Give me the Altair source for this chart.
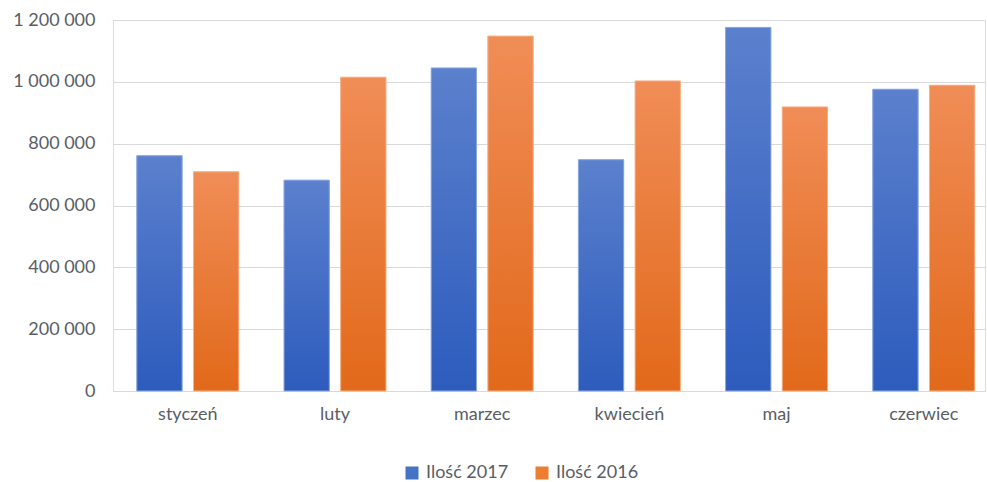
import altair as alt
import pandas as pd

months = ["styczeń", "luty", "marzec", "kwiecień", "maj", "czerwiec"]
series = ["Ilość 2017", "Ilość 2016"]
v2017 = [761000, 682000, 1045000, 748000, 1176000, 976000]
v2016 = [709000, 1015000, 1148000, 1003000, 919000, 989000]
y_ticks = [0, 200000, 400000, 600000, 800000, 1000000, 1200000]

rows = []
for m, a, b in zip(months, v2017, v2016):
    rows.append({"miesiac": m, "seria": series[0], "ilosc": a})
    rows.append({"miesiac": m, "seria": series[1], "ilosc": b})
df = pd.DataFrame(rows)

FONT = "Lato"
LABEL = "#595e66"

x_enc = alt.X("miesiac:N", sort=months, title=None,
              scale=alt.Scale(paddingInner=0.307, paddingOuter=0.1155, align=0.7),
              axis=alt.Axis(labelAngle=0, labelFontSize=18, labelColor=LABEL, labelFont=FONT,
                            labelPadding=14, domain=False, ticks=False, grid=False))
xo_enc = alt.XOffset("seria:N", sort=series,
                     scale=alt.Scale(domain=series, paddingInner=0.2, paddingOuter=0))
y_enc = alt.Y("ilosc:Q", title=None,
              scale=alt.Scale(domain=[0, 1200000], nice=False),
              axis=alt.Axis(values=y_ticks, labelFontSize=18, labelColor=LABEL, labelFont=FONT,
                            labelPadding=18, domain=False, ticks=False,
                            gridColor="#d9d9d9", gridWidth=1,
                            labelExpr="replace(replace(format(datum.value, ','), ',', ' '), ',', ' ')"))

base = alt.Chart(df)

legend_bars = base.mark_bar().encode(
    x=x_enc, xOffset=xo_enc, y=y_enc,
    color=alt.Color("seria:N", sort=series,
                    scale=alt.Scale(domain=series, range=["#4472c4", "#ed7d31"]),
                    legend=alt.Legend(title=None, orient="none", direction="horizontal",
                                      legendX=290, legendY=444,
                                      symbolType="square", symbolSize=169,
                                      labelFontSize=18, labelColor=LABEL, labelFont=FONT,
                                      labelOffset=5, columnPadding=24, symbolStrokeWidth=0)),
)

def grad(top, bottom):
    return alt.LinearGradient(gradient="linear", x1=0, x2=0, y1=0, y2=1,
                              stops=[alt.GradientStop(color=top, offset=0),
                                     alt.GradientStop(color=bottom, offset=1)])

blue = base.transform_filter(alt.datum.seria == series[0]).mark_bar(
    color=grad("#5b80cd", "#2d5cbd"), stroke="#8eaadf", strokeWidth=1
).encode(x=x_enc, xOffset=xo_enc, y=y_enc)

orange = base.transform_filter(alt.datum.seria == series[1]).mark_bar(
    color=grad("#f08d57", "#e2691a"), stroke="#f5b48a", strokeWidth=1
).encode(x=x_enc, xOffset=xo_enc, y=y_enc)

chart = alt.layer(legend_bars, blue, orange).properties(
    width=872, height=371,
    padding={"left": 113, "top": 20, "right": 2, "bottom": 91},
    autosize=alt.AutoSizeParams(type="none"),
).configure_view(stroke=None).configure(background="white")

chart.save("out.html", embed_options={"renderer": "svg", "actions": False})
